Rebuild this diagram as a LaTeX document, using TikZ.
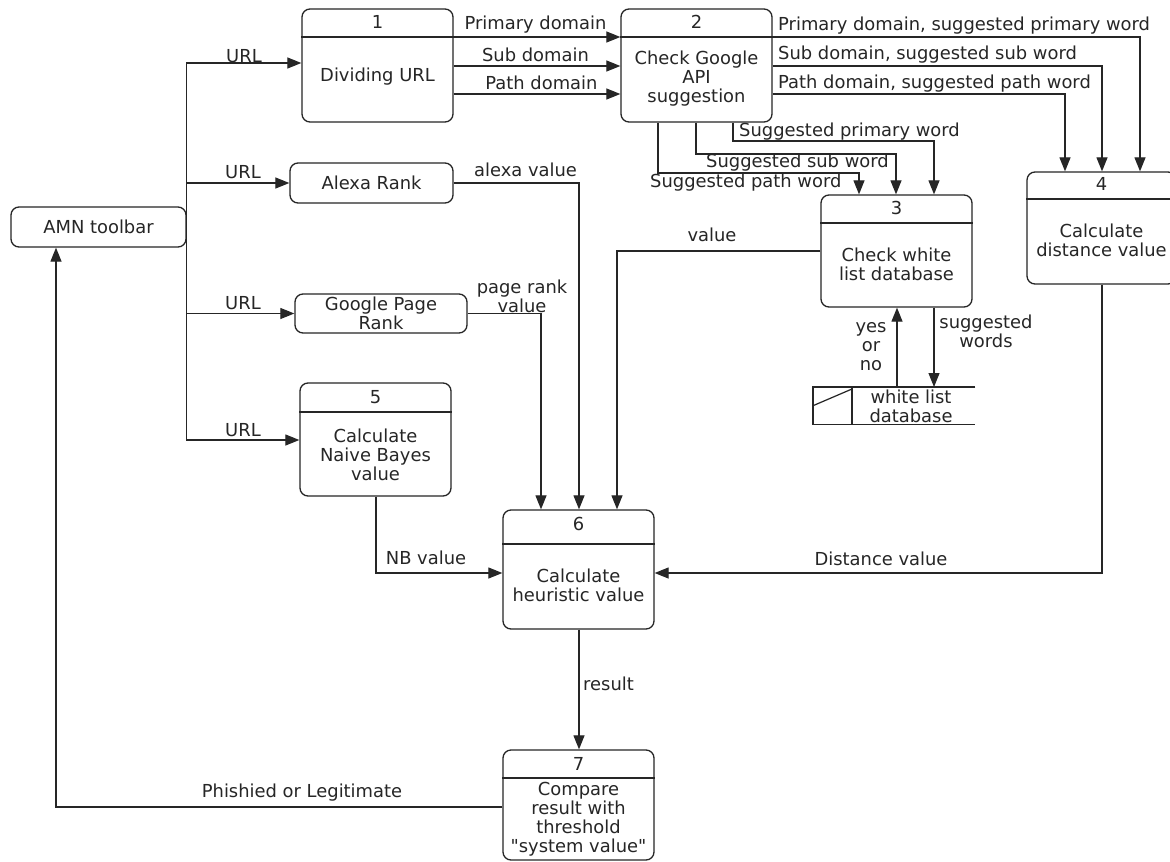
\documentclass[tikz,border=0pt]{standalone}
\usepackage{fontspec}
\newfontfamily\lbface{DejaVu Sans}
\usetikzlibrary{arrows.meta}
\newcommand\lbfont{\lbface\fontsize{17.9}{19}\selectfont}
\begin{document}
\begin{tikzpicture}[x=1pt,y=-1pt,
  proc/.style={draw=black!85, rounded corners=8pt, line width=1.3pt, inner sep=0pt},
  lbl/.style={font=\lbfont, text=black!85, inner sep=0pt, align=center},
  ln/.style={draw=black!85, line width=1.2pt},
  arr/.style={ln, -{Triangle[length=14pt,width=11pt]}}]
\path[use as bounding box, fill=white] (0,0) rectangle (1170,862);

% ---------- simple rounded boxes ----------
\node[proc, lbl, minimum width=175pt, minimum height=40pt] (amn) at (98.5,227) {AMN toolbar};
\node[proc, lbl, minimum width=163pt, minimum height=40pt] (alexa) at (371.5,183) {Alexa Rank};
\node[proc, lbl, minimum width=172pt, minimum height=39pt] (gpr) at (381,313.5) {Google Page\\Rank};

% ---------- process boxes ----------
\node[proc, minimum width=151pt, minimum height=113pt] (b1) at (377.5,65.5) {};
\draw[ln] (b1.west |- 0,37) -- (b1.east |- 0,37);
\node[lbl] (b1n) at (377.5,22) {1};
\node[lbl] (b1t) at (377.5,77) {Dividing URL};

\node[proc, minimum width=151pt, minimum height=113pt] (b2) at (696.5,65.5) {};
\draw[ln] (b2.west |- 0,37) -- (b2.east |- 0,37);
\node[lbl] (b2n) at (696.5,22) {2};
\node[lbl] (b2t) at (696.5,78.5) {Check Google\\API\\suggestion};

\node[proc, minimum width=151pt, minimum height=112pt] (b3) at (896.5,251) {};
\draw[ln] (b3.west |- 0,223) -- (b3.east |- 0,223);
\node[lbl] (b3n) at (896.5,208) {3};
\node[lbl] (b3t) at (896.5,264) {Check white\\list database};

\node[proc, minimum width=149pt, minimum height=112pt] (b4) at (1101.5,228) {};
\draw[ln] (b4.west |- 0,199) -- (b4.east |- 0,199);
\node[lbl] (b4n) at (1101.5,184) {4};
\node[lbl] (b4t) at (1101.5,240.5) {Calculate\\distance value};

\node[proc, minimum width=151pt, minimum height=113pt] (b5) at (375.5,439.5) {};
\draw[ln] (b5.west |- 0,412) -- (b5.east |- 0,412);
\node[lbl] (b5n) at (375.5,397) {5};
\node[lbl] (b5t) at (375.5,454.5) {Calculate\\Naive Bayes\\value};

\node[proc, minimum width=151pt, minimum height=119pt] (b6) at (578.5,569.5) {};
\draw[ln] (b6.west |- 0,544) -- (b6.east |- 0,544);
\node[lbl] (b6n) at (578.5,524) {6};
\node[lbl] (b6t) at (578.5,585) {Calculate\\heuristic value};

\node[proc, minimum width=151pt, minimum height=110pt] (b7) at (578.5,805) {};
\draw[ln] (b7.west |- 0,778) -- (b7.east |- 0,778);
\node[lbl] (b7n) at (578.5,764) {7};
\node[lbl] (b7t) at (578.5,819.5) {Compare\\result with\\threshold\\"system value"};

% ---------- data store ----------
\node[minimum width=162pt, minimum height=37pt, inner sep=0pt, anchor=north west] (store) at (813,387) {};
\draw[ln] (store.north east) -- (store.north west) -- (store.south west) -- (store.south east);
\draw[ln] (store.north west -| 852,0) -- (store.south west -| 852,0);
\draw[ln] (store.west) -- (852,389);
\node[lbl] (wl) at (911,406) {white list\\database};

% ---------- URL bus ----------
\draw[arr] (amn.east) |- (b1.west |- 0,63);
\draw[arr] (amn.east) |- (alexa.west);
\draw[arr] (amn.east) |- (gpr.west);
\draw[arr] (amn.east) |- (b5.west |- 0,440);
\node[lbl] (u1) at (244,56) {URL};
\node[lbl] (u2) at (243,172.5) {URL};
\node[lbl] (u3) at (243,303.5) {URL};
\node[lbl] (u4) at (243,430.5) {URL};

% ---------- 1 -> 2 ----------
\draw[arr] (b1.east |- 0,37) -- (b2.west |- 0,37);
\draw[arr] (b1.east |- 0,66) -- (b2.west |- 0,66);
\draw[arr] (b1.east |- 0,94) -- (b2.west |- 0,94);
\node[lbl] (l12a) at (535.5,25) {Primary domain};
\node[lbl] (l12b) at (535.5,55) {Sub domain};
\node[lbl] (l12c) at (541.5,83) {Path domain};

% ---------- 2 -> 4 ----------
\draw[arr] (b2.east |- 0,37) -| (b4.north -| 1140,0);
\draw[arr] (b2.east |- 0,66) -| (b4.north -| 1102,0);
\draw[arr] (b2.east |- 0,94) -| (b4.north -| 1065,0);
\node[lbl, anchor=west] (l24a) at (778,25.5) {Primary domain, suggested primary word};
\node[lbl, anchor=west] (l24b) at (778,55) {Sub domain, suggested sub word};
\node[lbl, anchor=west] (l24c) at (778,84) {Path domain, suggested path word};

% ---------- 2 -> 3 ----------
\draw[arr] (b2.south -| 733,0) |- (934,141) -- (b3.north -| 934,0);
\draw[arr] (b2.south -| 696,0) |- (896,154) -- (b3.north -| 896,0);
\draw[arr] (b2.south -| 658,0) |- (859,173) -- (b3.north -| 859,0);
\node[lbl, anchor=west] (l23a) at (739,132) {Suggested primary word};
\node[lbl, anchor=west] (l23b) at (706,163) {Suggested sub word};
\node[lbl, anchor=west] (l23c) at (650,183) {Suggested path word};

% ---------- 3 <-> store ----------
\draw[arr] (store.north -| 897,0) -- (b3.south -| 897,0);
\draw[arr] (b3.south -| 934,0) -- (store.north -| 934,0);
\node[lbl] (lyes) at (871,347) {yes\\or\\no};
\node[lbl] (lsw) at (986,331) {suggested\\words};

% ---------- into 6 ----------
\draw[arr] (b3.west |- 0,251) -| (b6.north -| 617,0);
\node[lbl] (lval) at (712,235) {value};
\draw[arr] (alexa.east) -| (b6.north -| 579,0);
\node[lbl] (lalexa) at (525.5,170) {alexa value};
\draw[arr] (gpr.east) -| (b6.north -| 541,0);
\node[lbl] (lpr) at (522,296) {page rank\\value};
\draw[arr] (b5.south -| 376,0) |- (b6.west |- 0,573);
\node[lbl] (lnb) at (426,558) {NB value};
\draw[arr] (b4.south -| 1102,0) |- (b6.east |- 0,573);
\node[lbl] (ldist) at (881,559) {Distance value};

% ---------- 6 -> 7 -> AMN ----------
\draw[arr] (b6.south -| 579,0) -- (b7.north -| 579,0);
\node[lbl, anchor=west] (lres) at (583,684) {result};
\draw[arr] (b7.west |- 0,807) -| (amn.south -| 56,0);
\node[lbl] (lphi) at (302,793) {Phishied or Legitimate};
\end{tikzpicture}
\end{document}
